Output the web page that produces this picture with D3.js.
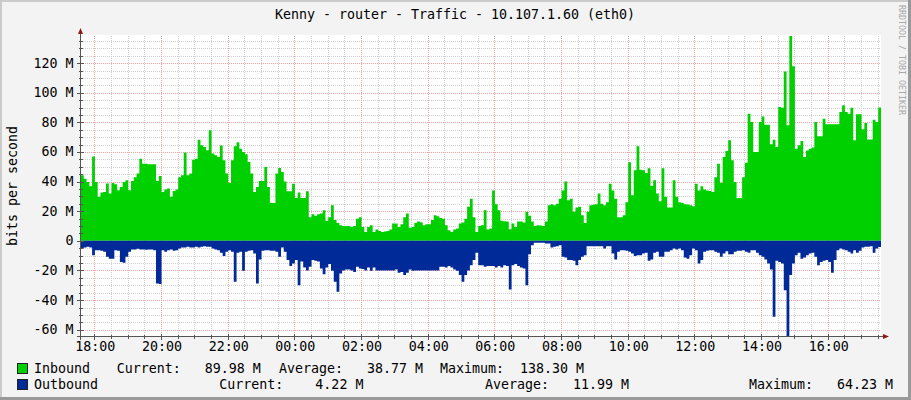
<!DOCTYPE html>
<html><head><meta charset="utf-8">
<script src="https://cdn.jsdelivr.net/npm/d3@7"></script>
<style>
html,body{margin:0;padding:0;background:#f3f3f3;}
svg{display:block;}
text{font-family:"DejaVu Sans Mono",monospace;fill:#000;white-space:pre;}
</style></head><body>
<svg id="chart" width="911" height="400"></svg>
<script>
const title = "Kenny - router - Traffic - 10.107.1.60 (eth0)";
const yAxisTitle = "bits per second";
const watermark = "RRDTOOL / TOBI OETIKER";
const startTime = new Date(2020, 0, 1, 17, 36);
const endTime = new Date(2020, 0, 2, 17, 36);
const stepMinutes = 5;

// Inbound traffic, Mbit/s, one value per 5 min step
const inbound = [
44.3,42,39.8,36.9,57,39.8,29.7,32.6,33,38.7,31.9,39,38.2,34.2,36.4,39.8,40.9,34.2,40.4,43,
45.4,55.5,52.1,52.1,51.7,51.7,51.7,40.4,43.8,33,34.6,35.3,29.7,33.7,34.6,43,44.3,59.6,44.3,45.4,
54.8,55.5,68.3,64.5,63.4,61.1,74.6,58.9,57.8,56.6,64.3,54.4,45.4,39,54.4,63.8,66.5,62.2,60,58.4,
53.3,45.4,33,36.4,40.4,40.4,49.9,36.4,25.6,25.6,45.4,49.2,46.5,40,33.5,33.5,38.6,29,32.6,29,
29,33.5,16,18,17,18,18.4,20.7,13.5,16,24,14,12,10.6,10,10,10,9.4,10,15,
16,9.4,6,9.4,10.6,6,7.6,6.7,6,6.3,6.7,7.6,11.7,11.7,9.4,11.2,16,18.4,8.8,9.4,
12,13,12.6,10.6,11.2,11.2,14,17.3,16.6,15.5,15,10.6,7.2,6,7.6,8.3,11.7,12.4,15,23,
28.5,16,6,10,10.6,20.7,7.6,8.3,34,24.7,20.7,13.5,13.3,13,7.9,11.7,9.4,13,13,12.4,
19.6,17,13,10,10.6,10.3,10,13,24,24.7,24,25,28.5,34,40,27.4,28.5,19.6,22.5,23,
17.3,12,19.6,24,24.3,24.7,32,25,24,26,38.6,34,28.5,16,16,17.3,26,53,30.8,47.6,
63.8,48,47.6,45.8,49,37,41,32,26.7,49,29.7,22.5,22.5,41,29.7,26,25.6,24.7,24.5,24,
23.4,38.6,34,36.9,34.7,34,33.7,33,43,52,39.3,56.6,60.7,67.9,54.4,39.8,29,29,43,52.8,
85.8,80.2,60,60,80.2,84,78.4,78.4,65.2,68.3,63.4,90.3,89.9,114.4,78,138.3,117.8,62.2,64.5,67.4,
56.6,61,62.2,63,80.2,70.6,70.6,82.5,78.7,78.7,78.7,78.7,78.7,87,91.5,87,85.8,89.9,67.9,85.4,
85.4,75.3,79.6,68.5,68.5,81.8,80.2,89.98
];

// Outbound traffic, Mbit/s (drawn below zero)
const outbound = [
5.2,4.5,4,4.5,9.7,6.3,6.3,6.7,7.4,10.8,12,12,6.3,6.7,14.2,14.8,10.8,7.4,5.8,5.8,
5.4,5.8,5.8,6,5.8,5.8,6.3,28.8,29.2,6.3,7.4,6.3,5.8,6.7,6.3,5.2,4.5,4.5,4,4.5,
4.5,4,4.5,4,3.6,4,4,5.2,5.8,6.3,8,10.3,7.4,6.3,7.4,27.6,8,7.4,20.2,7.4,
6.7,6.3,8.5,28.8,12.6,6.7,6.3,6.3,6.7,6.7,7.4,10.8,4.5,7.4,13,17,15.3,13,30,14,
18,20,17.5,13,13.5,14,18.7,22.5,18,15.7,20.2,27.6,34.4,22,20,19.3,19.3,20,21,17.5,
18.7,19,20,18,20.2,18,20,20,20,20,20,20,20,19.3,21.6,21,23,21.6,19.3,20.2,
20,20,20,20,20,20,20,20,20,17.5,17.5,18,17,18,19.3,20.2,23,27.6,23,20,
16.4,13,8,16.4,16.4,17.5,16.9,16.9,17,18,17,18,16.4,17,32.8,16.4,15.7,17,18,18.7,
30,9,2.9,1.3,1.3,1.3,1.3,1.8,1.8,4.5,4,3.6,2.9,10.8,11.2,13,13,13.5,16.4,13,
10.8,9.7,3.6,3.6,3.6,3.6,3.6,3.6,5.2,3.6,3.6,8.5,12.6,7.4,6.3,6.3,6.7,7.4,8.5,10.3,
9.7,9.7,8.5,8,13.5,12.6,8,7.4,10.8,10.8,7.4,7.4,6.3,5.2,5.8,5.2,6.3,11.2,12,9.7,
5.2,6.3,15.3,13,7.4,6.7,6.3,6.3,7.4,8,10.8,8.5,7,9,9,7.4,6.7,6.7,6.3,7.4,
8,6.3,6.3,8,9.7,10.8,12.6,15.3,19.3,51.2,13.5,14.2,15.3,33.3,64.23,23,15.3,9.7,8,12,
11.2,9.7,8.5,8,10.8,16.4,14.2,13.5,13,14.2,21.6,13,6.3,5.2,5.8,6.3,7.4,8.5,6.3,8,
6.7,4.5,4,4,3.6,8,5.2,4.22
];

const xTickLabels = ["18:00","20:00","22:00","00:00","02:00","04:00","06:00","08:00","10:00","12:00","14:00","16:00"];
const yTickValues = [-60,-40,-20,0,20,40,60,80,100,120];
const yTickLabels = ["-60 M","-40 M","-20 M","0","20 M","40 M","60 M","80 M","100 M","120 M"];
const yMin = -64.23, yMax = 138.30;

const legendNames = ["Inbound","Outbound"];
const legendColors = ["#00CF00","#002A97"];
const legendCurrent = ["89.98 M","4.22 M"];
const legendAverage = ["38.77 M","11.99 M"];
const legendMaximum = ["138.30 M","64.23 M"];

const FS = "13.3px";
const svg = d3.select("#chart");
const W = 911, H = 400;
const plot = {left:81, right:881, top:36, bottom:336};

// background & 3D frame
svg.append("rect").attr("x",0).attr("y",0).attr("width",W).attr("height",H).attr("fill","#f3f3f3");
svg.append("rect").attr("x",0).attr("y",0).attr("width",W).attr("height",2).attr("fill","#cbcbcb");
svg.append("rect").attr("x",0).attr("y",0).attr("width",2).attr("height",H).attr("fill","#cbcbcb");
svg.append("rect").attr("x",0).attr("y",H-3).attr("width",W).attr("height",3).attr("fill","#999");
svg.append("rect").attr("x",W-3).attr("y",0).attr("width",3).attr("height",H).attr("fill","#999");

// canvas
svg.append("rect").attr("x",plot.left).attr("y",plot.top-1)
  .attr("width",plot.right-plot.left).attr("height",plot.bottom-plot.top+1).attr("fill","#fff");

const x = d3.scaleTime().domain([startTime,endTime]).range([plot.left,plot.right]);
const y = d3.scaleLinear().domain([yMin,yMax]).range([plot.bottom,plot.top]);

const firstLabelTime = new Date(2020,0,1,18,0);
const xTickDates = xTickLabels.map((l,i)=>d3.timeHour.offset(firstLabelTime, i*2));
const xMinorDates = d3.timeMinute.every(30).range(startTime, endTime);
const yMinor = d3.range(Math.ceil(yMin/5)*5, yMax, 5);

const grid = svg.append("g").attr("shape-rendering","crispEdges");
grid.selectAll(".hmin").data(yMinor).enter().append("line")
  .attr("x1",plot.left).attr("x2",plot.right)
  .attr("y1",d=>Math.round(y(d))+0.5).attr("y2",d=>Math.round(y(d))+0.5)
  .attr("stroke","#cfcfcf").attr("stroke-dasharray","1,1");
grid.selectAll(".vmin").data(xMinorDates).enter().append("line")
  .attr("x1",d=>Math.round(x(d))+0.5).attr("x2",d=>Math.round(x(d))+0.5)
  .attr("y1",plot.top).attr("y2",plot.bottom)
  .attr("stroke","#cfcfcf").attr("stroke-dasharray","1,1");
grid.selectAll(".hmaj").data(yTickValues).enter().append("line")
  .attr("x1",plot.left).attr("x2",plot.right)
  .attr("y1",d=>Math.round(y(d))+0.5).attr("y2",d=>Math.round(y(d))+0.5)
  .attr("stroke","#f2a0a0").attr("stroke-dasharray","1,1");
grid.selectAll(".vmaj").data(xTickDates).enter().append("line")
  .attr("x1",d=>Math.round(x(d))+0.5).attr("x2",d=>Math.round(x(d))+0.5)
  .attr("y1",plot.top).attr("y2",plot.bottom)
  .attr("stroke","#f2a0a0").attr("stroke-dasharray","1,1");

// data
function series(vals, sign){
  const pts = vals.map((v,i)=>({t:d3.timeMinute.offset(startTime,i*stepMinutes), v:sign*v}));
  pts.push({t:d3.timeMinute.offset(startTime,vals.length*stepMinutes), v:sign*vals[vals.length-1]});
  return pts;
}
const area = d3.area().curve(d3.curveStepAfter)
  .x(d=>x(d.t)).y0(y(0)).y1(d=>y(d.v));
svg.append("path").datum(series(inbound,1)).attr("d",area).attr("fill",legendColors[0]);
svg.append("path").datum(series(outbound,-1)).attr("d",area).attr("fill",legendColors[1]);

// axes
const axisCol = "#555";
const ax = svg.append("g").attr("shape-rendering","crispEdges");
ax.append("line").attr("x1",80.5).attr("x2",80.5).attr("y1",340).attr("y2",32).attr("stroke",axisCol);
ax.append("line").attr("x1",77).attr("x2",884).attr("y1",336.5).attr("y2",336.5).attr("stroke",axisCol);
ax.selectAll(".ytm").data(yMinor).enter().append("line")
  .attr("x1",79).attr("x2",83).attr("y1",d=>Math.round(y(d))+0.5).attr("y2",d=>Math.round(y(d))+0.5)
  .attr("stroke",axisCol);
ax.selectAll(".ytM").data(yTickValues).enter().append("line")
  .attr("x1",77).attr("x2",84).attr("y1",d=>Math.round(y(d))+0.5).attr("y2",d=>Math.round(y(d))+0.5)
  .attr("stroke",axisCol);
ax.selectAll(".xtm").data(xMinorDates).enter().append("line")
  .attr("x1",d=>Math.round(x(d))+0.5).attr("x2",d=>Math.round(x(d))+0.5).attr("y1",335).attr("y2",339)
  .attr("stroke",axisCol);
ax.selectAll(".xtM").data(xTickDates).enter().append("line")
  .attr("x1",d=>Math.round(x(d))+0.5).attr("x2",d=>Math.round(x(d))+0.5).attr("y1",334).attr("y2",340)
  .attr("stroke",axisCol);
svg.append("path").attr("d","M80.5,28 L78,34 L83,34 Z").attr("fill","#8b1a1a");
svg.append("path").attr("d","M889,336.5 L883,334 L883,339 Z").attr("fill","#8b1a1a");

// tick labels
svg.selectAll(".yl").data(yTickValues).enter().append("text")
  .attr("x",73.5).attr("y",d=>y(d)+4.5).attr("text-anchor","end")
  .attr("font-size",FS).text((d,i)=>yTickLabels[i]);
svg.selectAll(".xl").data(xTickDates).enter().append("text")
  .attr("x",d=>x(d)+1).attr("y",351).attr("text-anchor","middle")
  .attr("font-size",FS).text((d,i)=>xTickLabels[i]);

// title
svg.append("text").attr("x",455).attr("y",19).attr("text-anchor","middle")
  .attr("font-size",FS).text(title);
svg.append("text").attr("transform","translate(16.5,186) rotate(-90)").attr("text-anchor","middle")
  .attr("font-size",FS).text(yAxisTitle);
svg.append("text").attr("transform","translate(899,5) rotate(90)")
  .attr("font-size","8.3px").style("fill","#a8a8a8").text(watermark);

// legend
const pad = (s,n)=>s.padStart(n," ");
const legRows = [
  {by:373, box:363, cur:116.7, avg:279, max:440},
  {by:389, box:379, cur:219.3, avg:485, max:749}
];
legRows.forEach((r,i)=>{
  svg.append("rect").attr("x",17.5).attr("y",r.box+0.5).attr("width",10).attr("height",10)
    .attr("fill",legendColors[i]).attr("stroke","#222").attr("stroke-width",1).attr("shape-rendering","crispEdges");
  const t = (xx,s)=>svg.append("text").attr("x",xx).attr("y",r.by).attr("font-size",FS)
    .attr("xml:space","preserve").text(s);
  t(34, legendNames[i]);
  t(r.cur, "Current:" + pad(legendCurrent[i],10));
  t(r.avg, "Average:" + pad(legendAverage[i],10));
  t(r.max, "Maximum:" + pad(legendMaximum[i],10));
});
</script>
</body></html>
